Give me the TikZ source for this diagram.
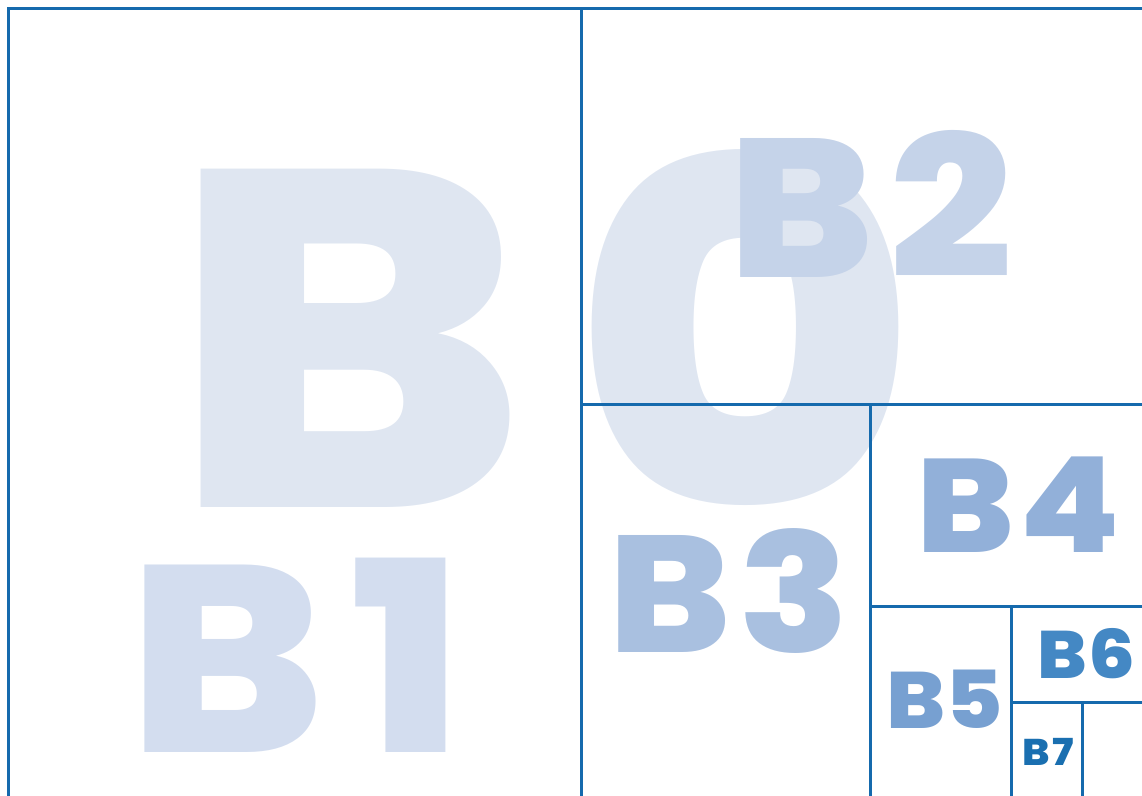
\documentclass[tikz,border=0pt]{standalone}
\usepackage{fontspec}
\usepackage{xcolor}
\usetikzlibrary{positioning}
\newfontfamily\sizefont{Poppins}[UprightFont=* ExtraBold, FakeStretch=1.1, LetterSpace=9.5]
\definecolor{sheetblue}{RGB}{21, 106, 173}
\definecolor{tintzero}{RGB}{223, 230, 241}
\definecolor{tintone}{RGB}{211, 221, 239}
\definecolor{tinttwo}{RGB}{197, 211, 233}
\definecolor{tintthree}{RGB}{169, 192, 224}
\definecolor{tintfour}{RGB}{146, 176, 217}
\definecolor{tintfive}{RGB}{119, 160, 209}
\definecolor{tintsix}{RGB}{68, 136, 196}
\definecolor{tintseven}{RGB}{26, 111, 176}

\begin{document}
\begin{tikzpicture}[
    x=0.5pt, y=-0.5pt,
    cut/.style={draw=sheetblue, line width=1.5pt, line cap=rect},
    size/.style={anchor=base, inner sep=0pt}
]
\useasboundingbox (0,0) rectangle (1142,796);
\clip (0,0) rectangle (1142,796);

% Sheet names
\node[size, text=tintzero,  font=\sizefont\fontsize{240}{240}\selectfont]  (bzero)  at (545,508) {B0};
\node[size, text=tintone,   font=\sizefont\fontsize{133}{133}\selectfont]  (bone)   at (296,753) {B1};
\node[size, text=tinttwo,   font=\sizefont\fontsize{98.6}{98.6}\selectfont\addfontfeature{LetterSpace=8}] (btwo)  at (871,278) {B2};
\node[size, text=tintthree, font=\sizefont\fontsize{83}{83}\selectfont\addfontfeature{LetterSpace=4.7}]    (bthree) at (729,653) {B3};
\node[size, text=tintfour,  font=\sizefont\fontsize{66.4}{66.4}\selectfont\addfontfeature{LetterSpace=4.2}] (bfour) at (1018.5,553) {B4};
\node[size, text=tintfive,  font=\sizefont\fontsize{40}{40}\selectfont\addfontfeature{LetterSpace=0}]    (bfive)  at (944.5,729) {B5};
\node[size, text=tintsix,   font=\sizefont\fontsize{33.6}{33.6}\selectfont\addfontfeature{LetterSpace=1}] (bsix)  at (1086.5,679) {B6};
\node[size, text=tintseven, font=\sizefont\fontsize{18.6}{18.6}\selectfont\addfontfeature{LetterSpace=8}] (bseven) at (1048,766) {B7};

% Cuts
\coordinate (topleft) at (8,9);
\draw[cut] (8,800) -- (topleft) -- (1150,9);
\draw[cut] (581,9)   -- (581,800);
\draw[cut] (581,405) -- (1150,405);
\draw[cut] (870,405) -- (870,800);
\draw[cut] (870,607) -- (1150,607);
\draw[cut] (1011,607) -- (1011,800);
\draw[cut] (1011,703) -- (1150,703);
\draw[cut] (1082,703) -- (1082,800);

\end{tikzpicture}
\end{document}
